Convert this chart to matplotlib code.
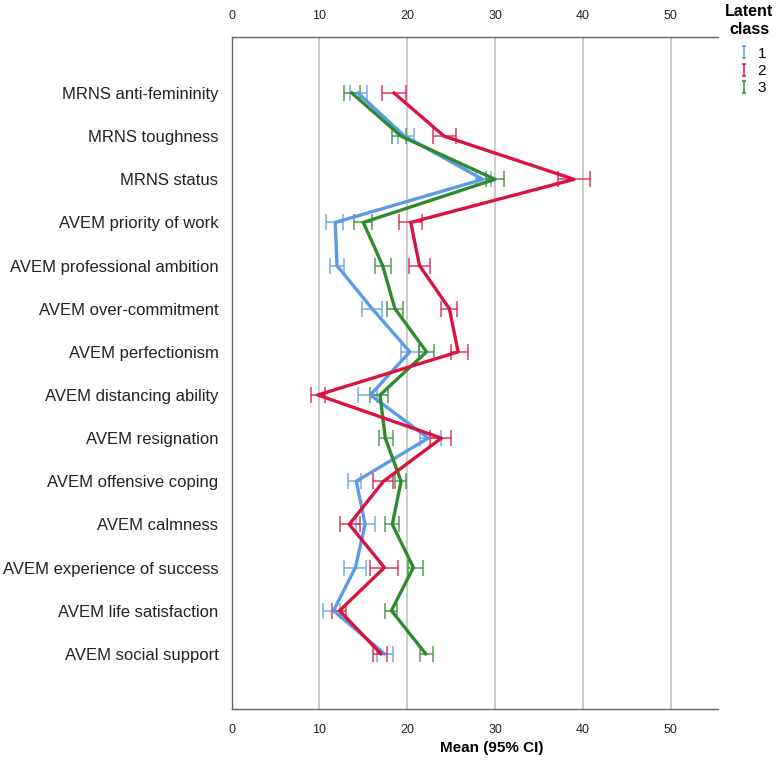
import matplotlib
matplotlib.use('Agg')
import matplotlib.pyplot as plt
from matplotlib.path import Path
from matplotlib.lines import Line2D
import numpy as np

plt.rcParams['font.family'] = ['Liberation Sans', 'DejaVu Sans']

# Data
categories = ['MRNS anti-femininity', 'MRNS toughness', 'MRNS status',
              'AVEM priority of work', 'AVEM professional ambition',
              'AVEM over-commitment', 'AVEM perfectionism',
              'AVEM distancing ability', 'AVEM resignation',
              'AVEM offensive coping', 'AVEM calmness',
              'AVEM experience of success', 'AVEM life satisfaction',
              'AVEM social support']

c1_mean = [14.4, 19.7, 28.6, 11.8, 12.0, 16.0, 20.3, 15.8, 22.4, 14.2, 15.2, 14.1, 11.6, 17.4]
c1_lo = [13.5, 18.9, 27.8, 10.8, 11.2, 14.9, 19.3, 14.4, 21.5, 13.3, 14.2, 12.8, 10.4, 16.5]
c1_hi = [15.4, 20.8, 29.5, 12.7, 12.8, 17.1, 21.3, 16.5, 23.8, 14.7, 16.3, 15.3, 12.3, 18.4]

c2_mean = [18.5, 24.2, 39.0, 20.4, 21.4, 24.8, 25.8, 9.8, 23.9, 17.3, 13.4, 17.4, 12.3, 17.0]
c2_lo = [17.1, 22.9, 37.2, 19.1, 20.2, 23.9, 25.0, 9.0, 22.6, 16.1, 12.3, 15.8, 11.4, 16.1]
c2_hi = [19.9, 25.5, 40.8, 21.7, 22.6, 25.7, 26.9, 10.6, 25.0, 18.4, 14.6, 19.0, 13.0, 17.7]

c3_mean = [13.7, 19.3, 30.0, 15.0, 17.2, 18.6, 22.2, 16.9, 17.5, 19.3, 18.3, 20.7, 18.2, 22.1]
c3_lo = [12.8, 18.3, 29.0, 13.9, 16.3, 17.7, 21.3, 15.8, 16.8, 18.6, 17.5, 20.1, 17.5, 21.4]
c3_hi = [14.6, 19.9, 31.0, 16.0, 18.2, 19.5, 23.0, 17.8, 18.4, 19.9, 19.1, 21.8, 18.8, 22.9]

class_labels = ['1', '2', '3']
colors = ['#5A9BE6', '#D9123F', '#2E8A2E']

fig = plt.figure(figsize=(7.8, 7.64), dpi=100)
ax = fig.add_axes([0.297, 0.072, 0.6235, 0.8796])

y = np.arange(len(categories))
# drawing order: class 1, class 3, class 2 on top
series = [(c1_mean, c1_lo, c1_hi), (c3_mean, c3_lo, c3_hi), (c2_mean, c2_lo, c2_hi)]
series_colors = [colors[0], colors[2], colors[1]]

for (m, lo, hi), col in zip(series, series_colors):
    m = np.array(m)
    err = [m - np.array(lo), np.array(hi) - m]
    ax.errorbar(m, y, xerr=err, fmt='none', ecolor=col, elinewidth=1.3,
                capsize=5.5, capthick=1.3, alpha=0.7, zorder=2)
    ax.plot(m, y, color=col, linewidth=2.4, zorder=3)

ax.set_xlim(0, 55.4)
ax.set_ylim(len(categories) - 1 + 1.28, -1.3)
ax.set_yticks(y)
ax.set_yticklabels(categories, fontsize=12)
ax.set_xticks([0, 10, 20, 30, 40, 50])
ax.tick_params(axis='x', labeltop=True, top=False, bottom=False, labelsize=9, pad=7, colors='#222222')
ax.tick_params(axis='y', left=False, pad=6, colors='#222222')
ax.grid(axis='x', color='#CCCCCC', linewidth=1.4)
ax.set_axisbelow(True)
ax.spines['right'].set_visible(False)
for s in ['left', 'top', 'bottom']:
    ax.spines[s].set_color('#666666')
    ax.spines[s].set_linewidth(1.0)

fig.text(492 / 780, 1 - 748 / 764, 'Mean (95% CI)', fontsize=11, fontweight='bold',
         ha='center', va='center')

# legend title and I-shaped errorbar symbols
fig.text(749 / 780, 1 - 20.5 / 764, 'Latent\nclass', fontsize=11.5, fontweight='bold',
         ha='center', va='center', linespacing=1.25)
ibar = Path([(-0.35, -1), (0.35, -1), (0, -1), (0, 1), (-0.35, 1), (0.35, 1)],
            [Path.MOVETO, Path.LINETO, Path.MOVETO, Path.LINETO, Path.MOVETO, Path.LINETO])
handles = [Line2D([], [], linestyle='none', marker=ibar, markersize=9,
                  markeredgewidth=1.1, color=c) for c in colors]
leg = fig.legend(handles, class_labels, loc='upper left', bbox_to_anchor=(0.928, 0.957),
                 frameon=False, fontsize=11,
                 handlelength=0.8, handletextpad=0.5, labelspacing=0.22)

fig.savefig('out.png', dpi=100)
